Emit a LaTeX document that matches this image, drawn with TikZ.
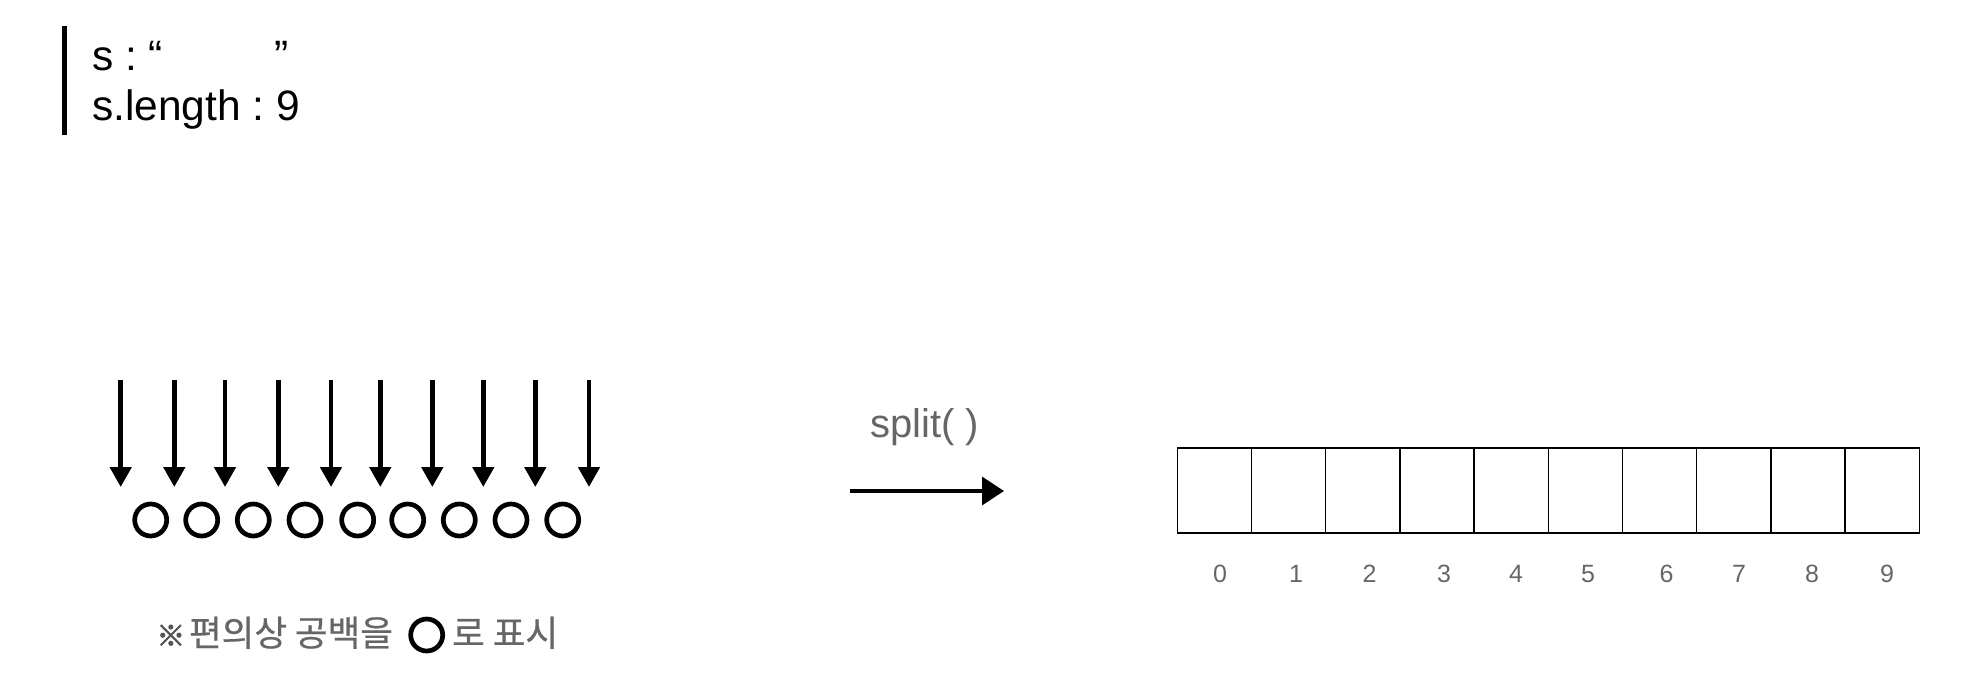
\documentclass[tikz,border=0pt]{standalone}
\usepackage{fontspec}
\setmainfont{Liberation Sans}
\newfontfamily\krfont[FakeBold=0.6]{Noto Sans CJK KR}
\newfontfamily\krmark[FakeBold=3]{Noto Sans CJK KR}
\usetikzlibrary{arrows.meta}
\definecolor{txtgray}{HTML}{666666}
\definecolor{markgray}{HTML}{555555}
\frenchspacing
\tikzset{
  bigtext/.style={font=\fontsize{42.5}{50}\selectfont, inner sep=0pt, anchor=base west},
  downarrow/.style={line width=4.7pt, -{Triangle[length=20pt,width=21pt]}},
  spacecirc/.style={circle, draw, line width=4.7pt, minimum size=32pt, inner sep=0pt},
  cell/.style={rectangle, draw, line width=1.3pt, minimum width=74.2pt, minimum height=85pt, inner sep=0pt},
  idx/.style={font=\fontsize{25}{30}\selectfont, text=txtgray, inner sep=0pt, anchor=base},
  splitlabel/.style={font=\fontsize{40}{48}\selectfont, text=txtgray, inner sep=0pt, anchor=base},
  splitarrow/.style={line width=3.5pt, -{Triangle[length=22pt,width=28pt]}},
  note/.style={font=\krfont\fontsize{35.5}{42}\selectfont, text=txtgray, inner sep=0pt, anchor=base west},
  quotebar/.style={line width=4.5pt}
}
\begin{document}
\begin{tikzpicture}[x=1pt,y=-1pt]
\useasboundingbox (0,0) rectangle (1980,696);
% quote bar and header text
\coordinate (bartop) at (64.7,26);
\coordinate (barbot) at (64.7,135);
\draw[quotebar] (bartop) -- (barbot);
\node[bigtext] (line1) at (92,70) {s : “\hspace{111pt}”};
\node[bigtext] (line2) at (92,120) {s.length : 9};
% arrows pointing down
\foreach \x [count=\i] in {120.7,174.3,225,278.3,331,380.3,432.3,483.3,535.3,589} {
  \coordinate (at\i) at (\x,380);
  \coordinate (ab\i) at (\x,487);
  \draw[downarrow] (at\i) -- (ab\i);
}
% space circles
\foreach \x [count=\i] in {150.7,201.7,253.3,305,357.7,407.7,459.3,511,562.7} {
  \node[spacecirc] (c\i) at (\x,520) {};
}
% note
\node[note] (note1) at (156.4,646) {{\krmark\fontsize{28.5}{30}\selectfont\color{markgray}※}\kern-4pt\ 편의상 공백을};
\node[spacecirc] (notec) at (426.7,635) {};
\node[note] (note2) at (452,646) {로 표시};
% split arrow
\node[splitlabel] (split) at (924.5,437) {split( )};
\coordinate (sa) at (850,491);
\coordinate (sb) at (1004,491);
\draw[splitarrow] (sa) -- (sb);
% array cells
\foreach \i in {0,...,9} {
  \node[cell] (cell\i) at ({1177.3+74.2*(\i+0.5)},490.5) {};
}
\foreach \x [count=\j from 0] in {1220,1296,1369.5,1444,1516,1588,1666.5,1739,1812,1887} {
  \node[idx] (n\j) at (\x,582.7) {\j};
}
\end{tikzpicture}
\end{document}
